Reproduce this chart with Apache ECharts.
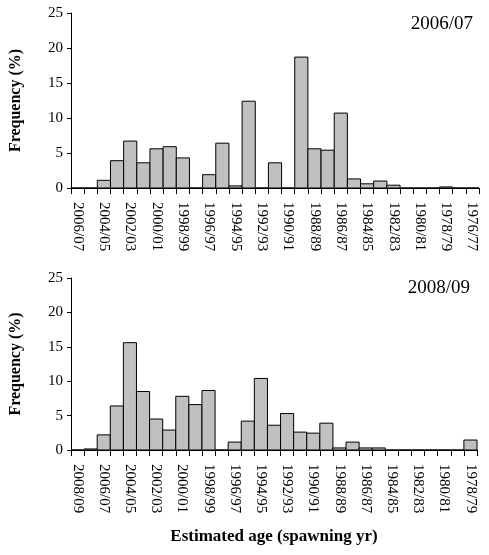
<!DOCTYPE html>
<html>
<head>
<meta charset="utf-8">
<script src="https://cdn.jsdelivr.net/npm/echarts@6/dist/echarts.min.js"></script>
<style>
html,body{margin:0;padding:0;background:#fff;}
#chart{width:489px;height:555px;}
</style>
</head>
<body>
<div id="chart"></div>
<script>
var topCategories = ["2006/07","2005/06","2004/05","2003/04","2002/03","2001/02","2000/01","1999/00","1998/99","1997/98","1996/97","1995/96","1994/95","1993/94","1992/93","1991/92","1990/91","1989/90","1988/89","1987/88","1986/87","1985/86","1984/85","1983/84","1982/83","1981/82","1980/81","1979/80","1978/79","1977/78","1976/77"];
var topValues = [0,0,1.1,3.9,6.7,3.6,5.6,5.9,4.3,0,1.9,6.4,0.3,12.4,0,3.6,0,18.7,5.6,5.4,10.7,1.3,0.6,1.0,0.4,0,0,0,0.15,0,0];

var bottomCategories = ["2008/09","2007/08","2006/07","2005/06","2004/05","2003/04","2002/03","2001/02","2000/01","1999/00","1998/99","1997/98","1996/97","1995/96","1994/95","1993/94","1992/93","1991/92","1990/91","1989/90","1988/89","1987/88","1986/87","1985/86","1984/85","1983/84","1982/83","1981/82","1980/81","1979/80","1978/79"];
var bottomValues = [0,0.15,2.2,6.4,15.6,8.5,4.5,2.9,7.8,6.6,8.65,0,1.15,4.2,10.4,3.6,5.3,2.6,2.45,3.9,0.3,1.15,0.3,0.3,0,0,0,0,0,0,1.45];

var panelTitles = ["2006/07","2008/09"];
var yTicks = {min:0, max:25, interval:5};
var yName = "Frequency (%)";
var xName = "Estimated age (spawning yr)";

var serif = '"Liberation Serif", "DejaVu Serif", serif';

function xAxisCfg(idx, cats, withName){
  var c = {
    type:'category', gridIndex:idx, data:cats, boundaryGap:true,
    axisLine:{show:true, lineStyle:{color:'#000', width:1}},
    axisTick:{show:true, interval:0, length:6, lineStyle:{color:'#000'}},
    axisLabel:{interval:1, rotate:-90, margin:14, color:'#000', fontFamily:serif, fontSize:15},
    splitLine:{show:false}
  };
  if (withName){
    c.name = xName; c.nameLocation='middle'; c.nameGap=78;
    c.nameTextStyle = {color:'#000', fontFamily:serif, fontSize:17, fontWeight:'bold'};
  }
  return c;
}
function yAxisCfg(idx){
  return {
    type:'value', gridIndex:idx, min:yTicks.min, max:yTicks.max, interval:yTicks.interval,
    name:yName, nameLocation:'middle', nameGap:47,
    nameTextStyle:{color:'#000', fontFamily:serif, fontSize:16, fontWeight:'bold'},
    axisLine:{show:true, lineStyle:{color:'#000', width:1}},
    axisTick:{show:true, length:4, lineStyle:{color:'#000'}},
    axisLabel:{color:'#000', fontFamily:serif, fontSize:15, margin:8},
    splitLine:{show:false}
  };
}
function renderBar(params, api){
  var idx = api.value(0);
  var v = api.value(1);
  var base = api.coord([idx, 0]);
  var top = api.coord([idx, v]);
  var w = api.size([1, 0])[0];
  return {
    type:'rect',
    shape:{x: base[0] - w/2, y: top[1], width: w, height: base[1] - top[1]},
    style:{fill:'#c0c0c0', stroke:'#000', lineWidth:1}
  };
}
function barSeries(idx, vals){
  return {
    type:'custom', xAxisIndex:idx, yAxisIndex:idx,
    data: vals.map(function(v, i){ return [i, v]; }),
    encode:{x:0, y:1},
    renderItem: renderBar,
    silent:true, animation:false
  };
}

var chart = echarts.init(document.getElementById('chart'), null, {renderer:'canvas'});
chart.setOption({
  animation:false,
  backgroundColor:'#fff',
  title:[
    {text:panelTitles[0], right:16, top:15, padding:0, textStyle:{color:'#000', fontFamily:serif, fontSize:19, fontWeight:'normal'}},
    {text:panelTitles[1], right:19, top:279, padding:0, textStyle:{color:'#000', fontFamily:serif, fontSize:19, fontWeight:'normal'}}
  ],
  grid:[
    {left:62, right:10, top:13, height:175, containLabel:false},
    {left:62, right:12, top:278, height:172, containLabel:false}
  ],
  xAxis:[xAxisCfg(0, topCategories, false), xAxisCfg(1, bottomCategories, true)],
  yAxis:[yAxisCfg(0), yAxisCfg(1)],
  series:[barSeries(0, topValues), barSeries(1, bottomValues)]
});
</script>
</body>
</html>
